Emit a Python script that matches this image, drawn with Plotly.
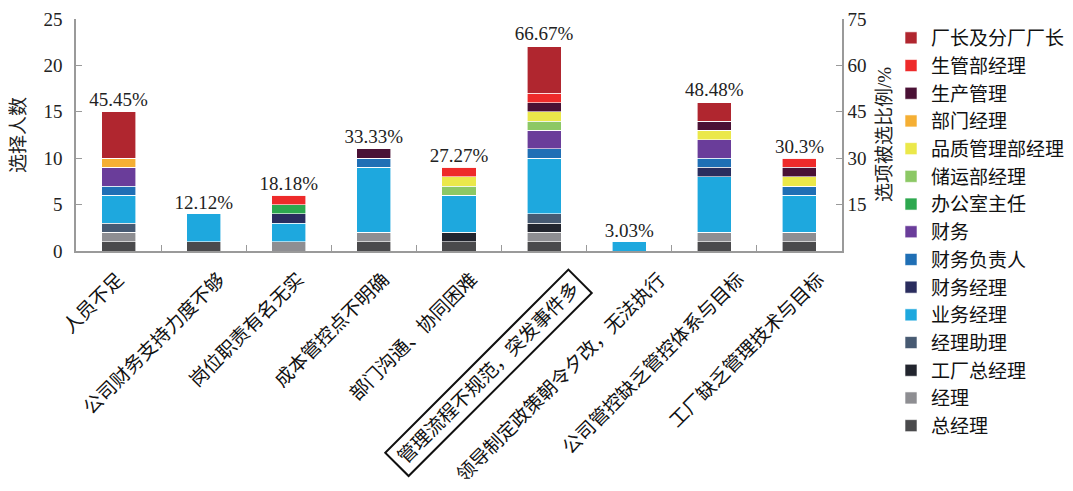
import plotly.graph_objects as go

categories = ["人员不足", "公司财务支持力度不够", "岗位职责有名无实", "成本管控点不明确",
              "部门沟通、协同困难", "管理流程不规范，突发事件多", "领导制定政策朝令夕改，无法执行",
              "公司管控缺乏管控体系与目标", "工厂缺乏管理技术与目标"]

# stacked from bottom to top
zongjingli = [1, 1, 0, 1, 1, 1, 0, 1, 1]          # 总经理
jingli = [1, 0, 1, 1, 0, 1, 0, 1, 1]              # 经理
gongchang_zjl = [0, 0, 0, 0, 1, 1, 0, 0, 0]       # 工厂总经理
jingli_zhuli = [1, 0, 0, 0, 0, 1, 0, 0, 0]        # 经理助理
yewu_jingli = [3, 3, 2, 7, 4, 6, 1, 6, 4]         # 业务经理
caiwu_jingli = [0, 0, 1, 0, 0, 0, 0, 1, 0]        # 财务经理
caiwu_fzr = [1, 0, 0, 1, 0, 1, 0, 1, 1]           # 财务负责人
caiwu = [2, 0, 0, 0, 0, 2, 0, 2, 0]               # 财务
bangongshi = [0, 0, 1, 0, 0, 0, 0, 0, 0]          # 办公室主任
chuyun = [0, 0, 0, 0, 1, 1, 0, 0, 0]              # 储运部经理
pinzhi = [0, 0, 0, 0, 1, 1, 0, 1, 1]              # 品质管理部经理
bumen = [1, 0, 0, 0, 0, 0, 0, 0, 0]               # 部门经理
shengchan = [0, 0, 0, 1, 0, 1, 0, 1, 1]           # 生产管理
shengguan = [0, 0, 1, 0, 1, 1, 0, 0, 1]           # 生管部经理
changzhang = [5, 0, 0, 0, 0, 5, 0, 2, 0]          # 厂长及分厂厂长

pct_values = [45.45, 12.12, 18.18, 33.33, 27.27, 66.67, 3.03, 48.48, 30.3]
pct_labels = ["45.45%", "12.12%", "18.18%", "33.33%", "27.27%", "66.67%", "3.03%", "48.48%", "30.3%"]

series = [
    ("总经理", zongjingli, "#4a4a4c"),
    ("经理", jingli, "#8e8e92"),
    ("工厂总经理", gongchang_zjl, "#22252e"),
    ("经理助理", jingli_zhuli, "#475a72"),
    ("业务经理", yewu_jingli, "#1ea8de"),
    ("财务经理", caiwu_jingli, "#2a2d5e"),
    ("财务负责人", caiwu_fzr, "#1f6fb5"),
    ("财务", caiwu, "#6a3d9a"),
    ("办公室主任", bangongshi, "#2da84f"),
    ("储运部经理", chuyun, "#8cc865"),
    ("品质管理部经理", pinzhi, "#ebe84a"),
    ("部门经理", bumen, "#f5af34"),
    ("生产管理", shengchan, "#4a1135"),
    ("生管部经理", shengguan, "#ee2a2a"),
    ("厂长及分厂厂长", changzhang, "#b0262f"),
]

FONT = "Liberation Serif, Noto Sans CJK SC, serif"
AX = "#9a9a9a"

fig = go.Figure()
for name, vals, color in series:
    fig.add_trace(go.Bar(x=categories, y=vals, name=name,
                         marker=dict(color=color, line=dict(color="white", width=0.6))))

fig.add_trace(go.Scatter(x=categories, y=pct_values, yaxis="y2", mode="text",
                         text=pct_labels, textposition="top center",
                         textfont=dict(family=FONT, size=19, color="#222"),
                         showlegend=False, cliponaxis=False, hoverinfo="skip"))

# rotated category labels (the 6th one is framed)
boxed = 5
for i, cat in enumerate(categories):
    shift = 2.8 * len(cat)
    if i == boxed:
        fig.add_annotation(x=cat, xref="x", y=0, yref="paper", text=cat, textangle=-45,
                           showarrow=False, xanchor="right", yanchor="top",
                           xshift=shift + 13, yshift=-17,
                           font=dict(family=FONT, size=19, color="#111"),
                           bordercolor="#111", borderwidth=2, borderpad=5)
    else:
        fig.add_annotation(x=cat, xref="x", y=0, yref="paper", text=cat, textangle=-45,
                           showarrow=False, xanchor="right", yanchor="top",
                           xshift=shift, yshift=-15,
                           font=dict(family=FONT, size=19, color="#111"))

# right axis title
fig.add_annotation(x=1, xref="paper", xshift=42, y=0.5, yref="paper", text="选项被选比例/%",
                   textangle=-90, showarrow=False, xanchor="center", yanchor="middle",
                   font=dict(family=FONT, size=19, color="#222"))

fig.update_layout(
    width=1065, height=483,
    margin=dict(l=68, r=231, t=11, b=240, autoexpand=False),
    plot_bgcolor="white", paper_bgcolor="white",
    barmode="stack", bargap=0.6,
    font=dict(family=FONT, size=19, color="#222"),
    xaxis=dict(type="category", range=[-0.5, 8.5], showticklabels=False,
               showline=True, linecolor=AX, linewidth=1.5,
               ticks="inside", tickson="boundaries", ticklen=6, tickcolor=AX,
               showgrid=False, automargin=False),
    yaxis=dict(range=[0, 25], dtick=5, showline=True, linecolor=AX, linewidth=1.5,
               ticks="inside", ticklen=6, tickcolor=AX, showgrid=False, zeroline=False,
               ticklabelstandoff=8,
               title=dict(text="选择人数", font=dict(family=FONT, size=19), standoff=20),
               automargin=False, tickfont=dict(family=FONT, size=19, color="#222")),
    yaxis2=dict(range=[0, 75], tickvals=[15, 30, 45, 60, 75], overlaying="y", side="right",
                showline=True, linecolor=AX, linewidth=1.5, ticks="inside", ticklen=6,
                tickcolor=AX, showgrid=False, zeroline=False,
                automargin=False, tickfont=dict(family=FONT, size=19, color="#222")),
    legend=dict(x=1.064, y=1.0, xanchor="left", yanchor="top", traceorder="reversed",
                maxheight=470,
                font=dict(family=FONT, size=19, color="#111"), bgcolor="rgba(0,0,0,0)"),
    showlegend=True,
)

fig.write_html("out.html")
